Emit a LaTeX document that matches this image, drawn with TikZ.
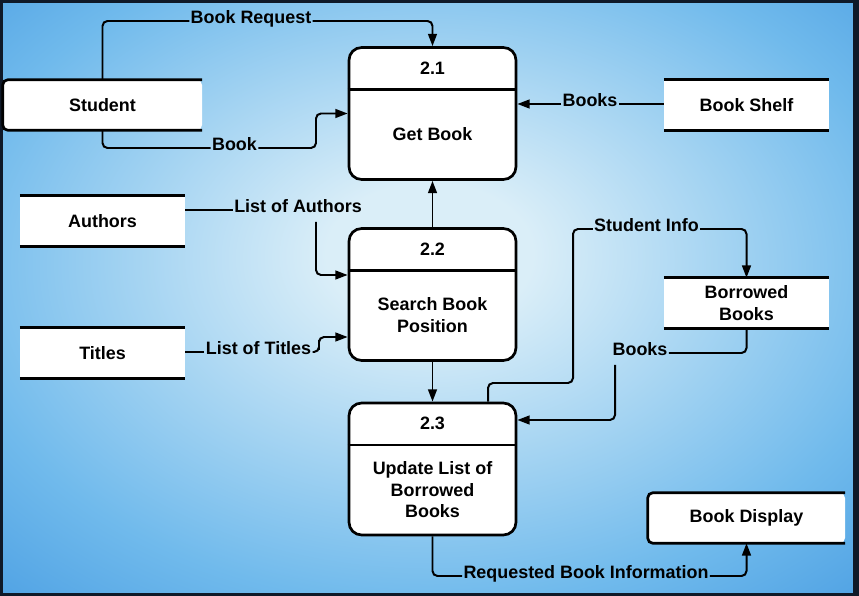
\documentclass[tikz,border=0pt]{standalone}
\usepackage{fontspec}
\setmainfont{Liberation Sans}
\usetikzlibrary{arrows.meta, positioning}

\definecolor{bglight}{RGB}{218,238,248}
\definecolor{bgmid}{RGB}{112,186,236}
\definecolor{bgdark}{RGB}{42,134,218}
\definecolor{frame}{RGB}{15,25,40}
\pgfdeclareradialshading{bgglow}{\pgfpoint{0bp}{4bp}}{color(0bp)=(bglight); color(6bp)=(bglight); color(28bp)=(bgmid); color(48bp)=(bgdark); color(72bp)=(bgdark)}

\begin{document}
\begin{tikzpicture}[
    x=0.03cm, y=-0.03cm,
    every node/.style={font=\fontsize{15.3}{18.5}\selectfont\bfseries},
    process/.style={draw, fill=white, rounded corners=0.38cm, line width=2.3pt, minimum width=5.01cm, minimum height=3.96cm},
    pnum/.style={minimum height=1.29cm, inner sep=0pt},
    ptext/.style={minimum height=2.67cm, inner sep=0pt, align=center},
    store/.style={fill=white, minimum width=4.95cm, minimum height=1.5cm, align=center, inner sep=0pt},
    rim/.style={line width=2.3pt},
    lbl/.style={inner sep=1pt, text height=0.45em, text depth=0pt},
    flow/.style={line width=1.7pt, rounded corners=0.15cm},
    arrow/.style={flow, -{Triangle[length=10.5pt, width=7.5pt]}},
]
\useasboundingbox (0,0) rectangle (859,596);

% background
\shade[shading=bgglow] (0,0) rectangle (859,596);
\draw[line width=0.09cm, draw=frame] (1.5,1.5) rectangle (857.5,594.5);
\fill[frame] (853,0) rectangle (859,596);

% Processes
\node[process] (p21) at (432.5,113.5) {};
\node[pnum, anchor=north] (p21n) at (p21.north) {2.1};
\node[ptext, below=0pt of p21n] (p21t) {Get Book};
\draw[rim] (p21n.south -| p21.west) -- (p21n.south -| p21.east);

\node[process] (p22) at (432.5,294.5) {};
\node[pnum, anchor=north] (p22n) at (p22.north) {2.2};
\node[ptext, below=0pt of p22n] (p22t) {Search Book\\Position};
\draw[rim] (p22n.south -| p22.west) -- (p22n.south -| p22.east);

\node[process] (p23) at (432.5,469) {};
\node[pnum, anchor=north] (p23n) at (p23.north) {2.3};
\node[ptext, below=0pt of p23n] (p23t) {Update List of\\Borrowed\\Books};
\draw[rim] (p23n.south -| p23.west) -- (p23n.south -| p23.east);

% Stores and entities
\node[store, minimum width=5.97cm, rounded corners=0.15cm] (student) at (102.5,105) {Student};
\node[store] (shelf) at (746.5,105) {Book Shelf};
\node[store] (authors) at (102.5,221) {Authors};
\node[store] (titles) at (102.5,353) {Titles};
\node[store] (borrowed) at (746.5,303) {Borrowed\\Books};
\node[store, minimum width=5.91cm, rounded corners=0.15cm] (display) at (746.5,518) {Book Display};

\foreach \n in {shelf, authors, titles, borrowed}
    \draw[rim] (\n.north west) -- (\n.north east) (\n.south west) -- (\n.south east);
\foreach \n in {student, display}
    \draw[rim, rounded corners=0.15cm] (\n.north east) -- (\n.north west) -- (\n.south west) -- (\n.south east);

% Labels
\node[lbl] (reqlbl) at (251,21) {Book Request};
\node[lbl] (booklbl) at (234.5,148) {Book};
\node[lbl] (shelflbl) at (590,104) {Books};
\node[lbl] (authlbl) at (298,210) {List of Authors};
\node[lbl] (titlbl) at (258.5,352) {List of Titles};
\node[lbl] (infolbl) at (646.5,229) {Student Info};
\node[lbl] (bblbl) at (640,353) {Books};
\node[lbl] (reqinfo) at (586,576) {Requested Book Information};

\coordinate (bookrise) at (316,130);
\coordinate (authdrop) at (316,222);
\coordinate (titbend) at (319,345);
\coordinate (infobend) at (573,383);
\coordinate (bbdrop) at (615,365);

% Flows
\draw[flow] (student.north) |- (reqlbl.west);
\draw[arrow] (reqlbl.east) -| (p21.north);

\draw[flow] (student.south) |- (booklbl.west);
\draw[arrow] (booklbl.east) -| (bookrise) |- (p21.west);

\draw[flow] (shelf.west |- shelflbl.east) -- (shelflbl.east);
\draw[arrow] (shelflbl.west) -- (shelflbl.west -| p21.east);

\draw[flow] (authlbl.west -| authors.east) -- (authlbl.west);
\draw[arrow] (authdrop) |- ([yshift=0.585cm]p22.west);

\draw[flow] (titles.east |- titlbl.west) -- (titlbl.west);
\draw[arrow] (titlbl.east) -| (titbend) |- ([yshift=-1.275cm]p22.west);

\draw[arrow] (p22) -- (p21);
\draw[arrow] (p22) -- (p23);

\draw[flow] ([xshift=1.665cm]p23.north) |- (infobend) |- (infolbl.west);
\draw[arrow] (infolbl.east) -| (borrowed.north);

\draw[flow] (borrowed.south) |- (bblbl.east);
\draw[arrow] (bbdrop) |- ([yshift=1.47cm]p23.east);

\draw[flow] (p23.south) |- (reqinfo.west);
\draw[arrow] (reqinfo.east) -| (display.south);

\end{tikzpicture}
\end{document}
